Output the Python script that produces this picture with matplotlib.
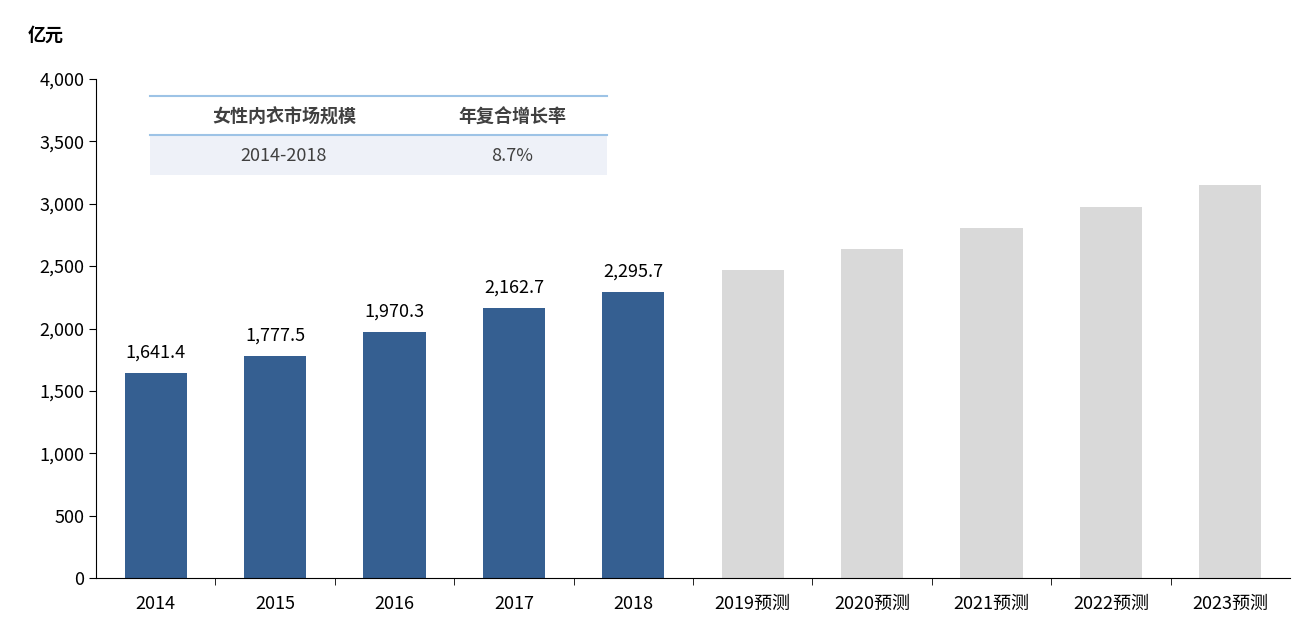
import matplotlib.pyplot as plt
from matplotlib.patches import Rectangle
from matplotlib.lines import Line2D

plt.rcParams['font.family'] = ['Noto Sans CJK SC', 'DejaVu Sans']

categories = ['2014', '2015', '2016', '2017', '2018',
              '2019预测', '2020预测', '2021预测', '2022预测', '2023预测']
values = [1641.4, 1777.5, 1970.3, 2162.7, 2295.7, 2468, 2636, 2804, 2973, 3149]
n_actual = 5

fig = plt.figure(figsize=(13.12, 6.43), dpi=100)
ax = fig.add_axes([96/1312, 1-578/643, 1194/1312, 499/643])

colors = ['#355f91'] * n_actual + ['#d9d9d9'] * (len(values) - n_actual)
x = list(range(len(values)))
ax.bar(x, values, width=0.52, color=colors)
for i in range(n_actual):
    ax.text(i, values[i] + 90, f'{values[i]:,.1f}', ha='center', va='bottom', fontsize=13)

ax.set_xlim(-0.5, len(values) - 0.5)
ax.set_ylim(0, 4000)
ax.set_yticks(range(0, 4001, 500))
ax.set_yticklabels([f'{v:,}' for v in range(0, 4001, 500)])
ax.set_xticks(x)
ax.set_xticklabels(categories)
ax.set_xticks([i + 0.5 for i in range(len(values) - 1)], minor=True)
ax.tick_params(axis='x', which='major', length=0, pad=12, labelsize=13)
ax.tick_params(axis='x', which='minor', length=5, labelsize=0)
ax.tick_params(axis='y', length=5, labelsize=13)
for s in ['top', 'right']:
    ax.spines[s].set_visible(False)

fig.text(28/1312, 1-35/643, '亿元', fontsize=13, fontweight='bold', va='center')

# small table in upper left
tx0, tx1 = 150/1312, 607/1312
fig.add_artist(Rectangle((tx0, 1-175/643), tx1-tx0, 40/643, transform=fig.transFigure,
                         facecolor='#eef1f8', edgecolor='none'))
fig.add_artist(Line2D([tx0, tx1], [1-96/643]*2, transform=fig.transFigure, color='#9dc3e6', lw=1.5))
fig.add_artist(Line2D([tx0, tx1], [1-135/643]*2, transform=fig.transFigure, color='#9dc3e6', lw=1.5))
fig.text(284/1312, 1-117/643, '女性内衣市场规模', fontsize=13, fontweight='bold', ha='center', va='center', color='#404040')
fig.text(512/1312, 1-117/643, '年复合增长率', fontsize=13, fontweight='bold', ha='center', va='center', color='#404040')
fig.text(284/1312, 1-156/643, '2014-2018', fontsize=13, ha='center', va='center', color='#404040')
fig.text(512/1312, 1-156/643, '8.7%', fontsize=13, ha='center', va='center', color='#404040')

fig.savefig('out.png', dpi=100)
